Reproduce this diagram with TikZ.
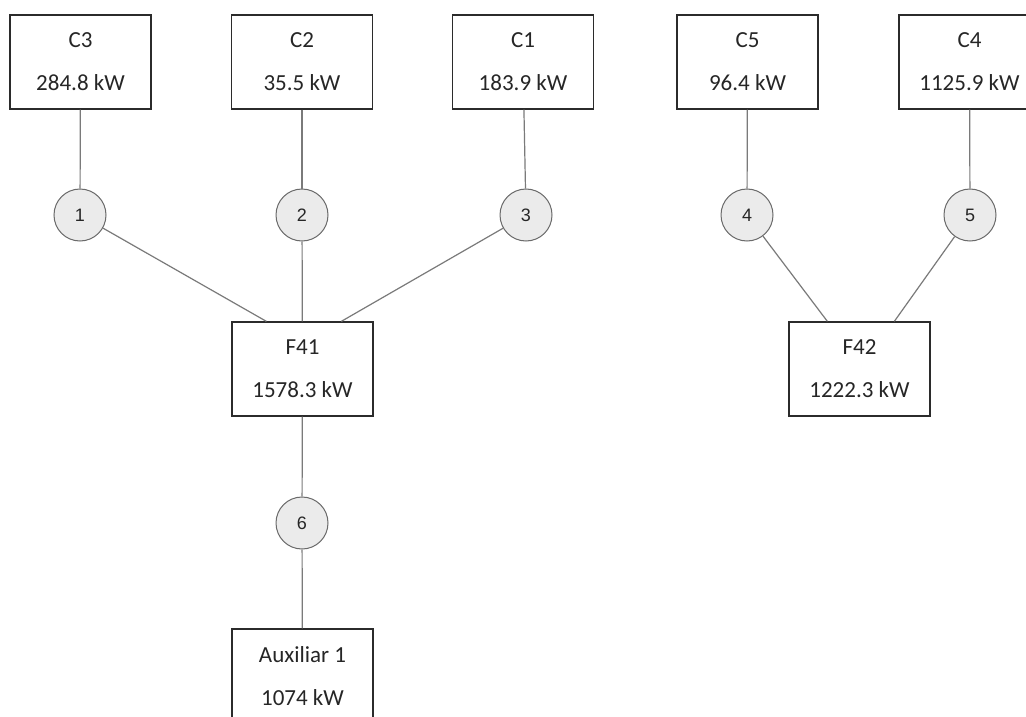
\documentclass[tikz,border=0pt]{standalone}
\usepackage{fontspec}
\setmainfont{Carlito}
\newfontfamily\busfont{Liberation Sans}
\usetikzlibrary{calc, positioning}
\definecolor{boxline}{HTML}{2B2B2B}
\definecolor{wire}{HTML}{7A7A7A}
\definecolor{busfill}{HTML}{EBEBEB}
\definecolor{busline}{HTML}{6A6A6A}
\definecolor{txt}{HTML}{262626}
\tikzset{
  load/.style={rectangle, draw=boxline, line width=1.3pt, fill=white,
    minimum width=141pt, minimum height=94pt, inner sep=0pt, align=center,
    text=txt, font=\fontsize{23}{43}\selectfont},
  bus/.style={circle, draw=busline, line width=1pt, fill=busfill,
    minimum size=52pt, inner sep=0pt, text=txt, font=\busfont\fontsize{18}{22}\selectfont},
  wire/.style={draw=wire, line width=1.2pt},
}

\begin{document}
\begin{tikzpicture}[x=1pt, y=1pt]
\path[fill=white] (0,0) rectangle (1026,-717);
\useasboundingbox (0,0) rectangle (1026,-717);

% ---- Loads on top row
\node[load] (C3) at (80.5,-62)  {C3\\284.8 kW};
\node[load] (C2) at (302,-62)   {C2\\35.5 kW};
\node[load] (C1) at (523,-62)   {C1\\183.9 kW};
\node[load] (C5) at (747.5,-62) {C5\\96.4 kW};
\node[load] (C4) at (969.5,-62) {C4\\1125.9 kW};

% ---- Feeders and auxiliary
\node[load] (F41) at (302.5,-369) {F41\\1578.3 kW};
\node[load] (F42) at (859.5,-369) {F42\\1222.3 kW};
\node[load] (aux) at (302.5,-676) {Auxiliar 1\\1074 kW};

% ---- Numbered junctions
\node[bus] (n1) at (80,-215)  {1};
\node[bus] (n2) at (302,-215) {2};
\node[bus] (n3) at (526,-215) {3};
\node[bus] (n4) at (747,-215) {4};
\node[bus] (n5) at (970,-215) {5};
\node[bus] (n6) at (302,-523) {6};

% tap points on the feeder tops
\coordinate (f41a) at ([xshift=35pt]F41.north west);
\coordinate (f41c) at ([xshift=110pt]F41.north west);
\coordinate (f42a) at ([xshift=39pt]F42.north west);
\coordinate (f42b) at ([xshift=106pt]F42.north west);

\draw[wire] (C3) -- (n1);
\draw[wire] (C2) -- (n2);
\draw[wire] (C1) -- (n3);
\draw[wire] (C5) -- (n4);
\draw[wire] (C4) -- (n5);

\draw[wire] (n1) -- (f41a);
\draw[wire] (n2) -- (F41);
\draw[wire] (n3) -- (f41c);
\draw[wire] (n4) -- (f42a);
\draw[wire] (n5) -- (f42b);

\draw[wire] (F41) -- (n6);
\draw[wire] (n6) -- (aux);

\end{tikzpicture}
\end{document}
